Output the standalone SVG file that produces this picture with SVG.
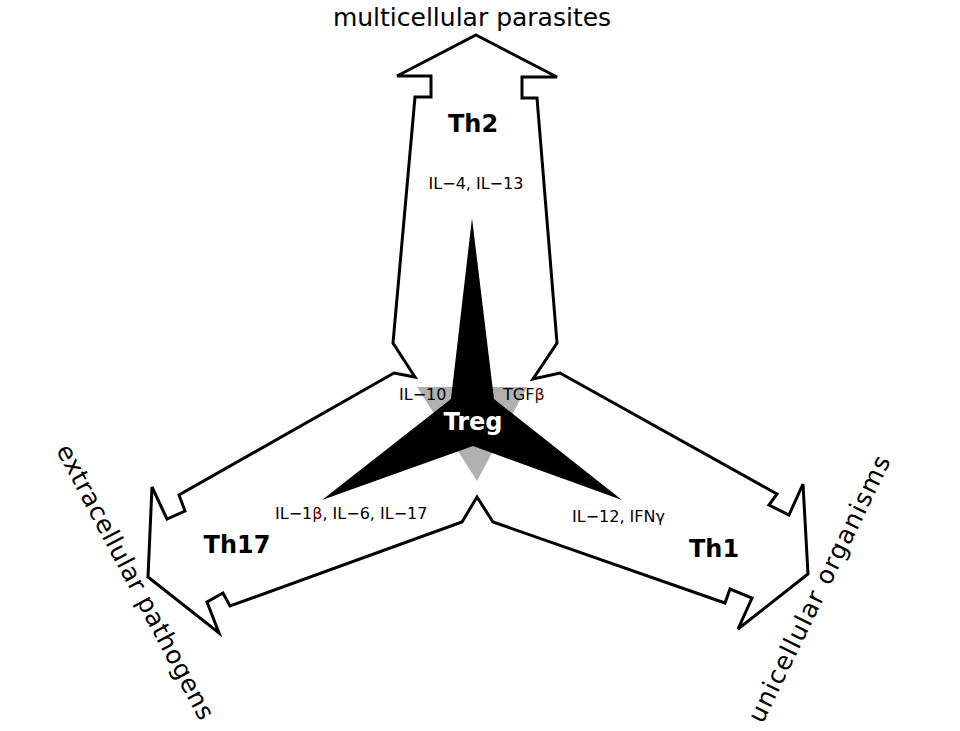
<svg xmlns="http://www.w3.org/2000/svg" width="960" height="731" viewBox="0 0 960 731">
<style>
.outline{fill:#fff;stroke:#000;stroke-width:3;stroke-linejoin:miter}
.big{font-family:"DejaVu Sans",sans-serif;font-size:25px;fill:#000}
.th{font-family:"DejaVu Sans",sans-serif;font-size:24px;font-weight:bold;fill:#000;text-anchor:middle}
.il{font-family:"DejaVu Sans",sans-serif;font-size:16px;fill:#000}
.beta{fill:#600}
</style>
<rect width="960" height="731" fill="#fff"/>
<g id="arrows">
<polygon class="outline" points="476,35 557,77 522,77 522,98 537,98 557,343 533,379 560,373 777,494 769,505 789,515 803,484 808,574 738,629 752,598 730,589 725,603 493,522 477,497 462,522 230,606 223,593 207,602 219,633 148,577 152,487 167,519 185,511 179,495 394,373 415,377 393,343 415,97 431,97 431,76 397,76"/>
</g>
<g id="Treg">
<polygon points="417,387 527,387 477,481" fill="#b0b0b0"/>
<polygon points="472,218 494,399 622,500 473,446 322,500 451,399" fill="#000"/>
<text x="473" y="430" class="th" style="fill:#fff">Treg</text>
<text x="399" y="400" class="il">IL−10</text>
<text x="503" y="400" class="il">TGF<tspan class="beta">β</tspan></text>
</g>
<g id="Th2">
<text x="473" y="132" class="th">Th2</text>
<text x="476" y="189" class="il" text-anchor="middle">IL−4, IL−13</text>
<text x="472" y="26" class="big" text-anchor="middle">multicellular parasites</text>
</g>
<g id="Th17">
<text x="237" y="553" class="th">Th17</text>
<text x="275" y="519" class="il">IL−1<tspan class="beta">β</tspan>, IL−6, IL−17</text>
<text transform="translate(128,586) rotate(62)" class="big" text-anchor="middle" letter-spacing="0.5">extracellular pathogens</text>
</g>
<g id="Th1">
<text x="714" y="557" class="th">Th1</text>
<text x="572" y="522" class="il">IL−12, IFNγ</text>
<text transform="translate(827,592) rotate(-64)" class="big" text-anchor="middle" letter-spacing="1.3">unicellular organisms</text>
</g>
</svg>
